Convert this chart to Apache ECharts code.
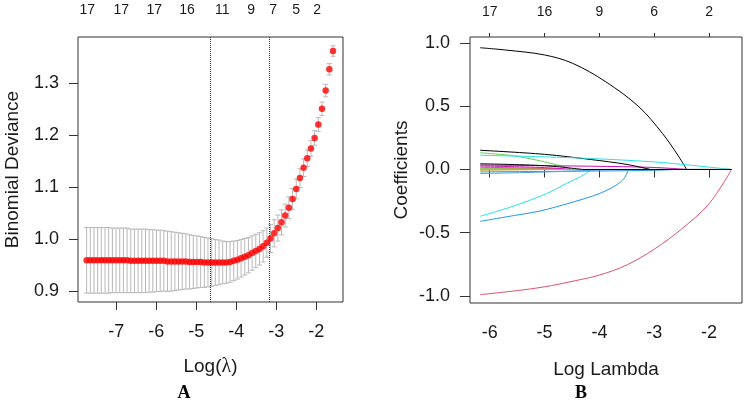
<!DOCTYPE html>
<html>
<head>
<meta charset="utf-8">
<script src="https://cdn.jsdelivr.net/npm/echarts@6/dist/echarts.min.js"></script>
<style>
  html, body { margin: 0; padding: 0; background: #fff; }
  #chart { width: 744px; height: 401px; }
</style>
</head>
<body>
<div id="chart"></div>
<script>
// Panel A: cross-validated binomial deviance
const logLambdaA = [
  -7.744, -7.652, -7.560, -7.468, -7.376, -7.284, -7.192, -7.100, -7.008, -6.916,
  -6.824, -6.732, -6.640, -6.548, -6.456, -6.364, -6.272, -6.180, -6.088, -5.996,
  -5.904, -5.812, -5.720, -5.628, -5.536, -5.444, -5.352, -5.260, -5.168, -5.076,
  -4.984, -4.892, -4.800, -4.708, -4.616, -4.524, -4.432, -4.340, -4.248, -4.156,
  -4.064, -3.972, -3.880, -3.788, -3.696, -3.604, -3.512, -3.420, -3.328, -3.236,
  -3.144, -3.052, -2.960, -2.868, -2.776, -2.684, -2.592, -2.500, -2.408, -2.316,
  -2.224, -2.132, -2.040, -1.948, -1.856, -1.764, -1.672, -1.580
];
const devMean = [
  0.959, 0.959, 0.959, 0.959, 0.959, 0.959, 0.959, 0.959, 0.959, 0.959,
  0.959, 0.959, 0.958, 0.958, 0.958, 0.958, 0.958, 0.958, 0.958, 0.958,
  0.958, 0.958, 0.957, 0.957, 0.957, 0.957, 0.957, 0.957, 0.956, 0.956,
  0.956, 0.956, 0.955, 0.955, 0.955, 0.955, 0.955, 0.955, 0.955, 0.956,
  0.958, 0.960, 0.963, 0.966, 0.969, 0.973, 0.977, 0.981, 0.986, 0.993,
  1.001, 1.011, 1.021, 1.032, 1.045, 1.060, 1.077, 1.096, 1.117, 1.137,
  1.155, 1.174, 1.194, 1.220, 1.250, 1.285, 1.326, 1.361
];
const devSE = [
  0.063, 0.063, 0.063, 0.063, 0.063, 0.063, 0.063, 0.062, 0.062, 0.062,
  0.062, 0.062, 0.061, 0.061, 0.061, 0.061, 0.061, 0.060, 0.060, 0.059,
  0.059, 0.058, 0.058, 0.057, 0.056, 0.055, 0.054, 0.053, 0.052, 0.051,
  0.050, 0.049, 0.048, 0.047, 0.046, 0.044, 0.043, 0.041, 0.040, 0.039,
  0.038, 0.037, 0.036, 0.035, 0.034, 0.033, 0.032, 0.031, 0.030, 0.028,
  0.027, 0.026, 0.025, 0.024, 0.022, 0.021, 0.020, 0.019, 0.018, 0.017,
  0.016, 0.015, 0.014, 0.013, 0.013, 0.012, 0.011, 0.010
];
const cutLinesA = [-4.65, -3.17];
const nzeroPosA = [-7.73, -6.88, -6.05, -5.23, -4.35, -3.63, -3.08, -2.50, -1.98];
const nzeroLabA = ['17', '17', '17', '16', '11', '9', '7', '5', '2'];
const xTicksA = [-7, -6, -5, -4, -3, -2];
const yTicksA = [0.9, 1.0, 1.1, 1.2, 1.3];

// Panel B: coefficient paths [logLambda, coefficient], last point = where it reaches 0
const pathBlack1 = [[-6.175, 0.963], [-5.71, 0.945], [-5.0, 0.906], [-4.49, 0.84], [-3.885, 0.694], [-3.28, 0.496], [-2.85, 0.285], [-2.55, 0.10], [-2.41, 0]];
const pathRed1 = [[-6.175, -0.990], [-5.5, -0.958], [-5.0, -0.928], [-4.5, -0.885], [-4.0, -0.835], [-3.5, -0.755], [-3.0, -0.630], [-2.5, -0.470], [-2.0, -0.270], [-1.59, 0]];
const pathGreen1 = [[-6.175, 0.132], [-5.6, 0.11], [-5.14, 0.074], [-4.6, 0.016], [-4.5, 0]];
const pathBlueLow = [[-6.175, -0.41], [-5.5, -0.36], [-5.1, -0.33], [-4.5, -0.26], [-4.0, -0.19], [-3.7, -0.125], [-3.55, -0.07], [-3.47, 0]];
const pathCyanLow = [[-6.175, -0.37], [-5.57, -0.29], [-4.96, -0.19], [-4.6, -0.11], [-4.35, -0.058], [-4.14, 0]];
const pathMagenta1 = [[-6.175, 0.035], [-4.16, 0.026], [-3.0, 0.016], [-2.4, 0]];
const pathYellow1 = [[-6.175, 0.010], [-4.8, 0.004], [-4.6, 0]];
const pathGray1 = [[-6.175, 0.002], [-5.3, 0]];
const pathBlack2 = [[-6.175, 0.152], [-5.0, 0.12], [-4.16, 0.079], [-3.5, 0.04], [-3.07, 0]];
const pathRed2 = [[-6.175, 0.018], [-5.0, 0.008], [-4.6, 0]];
const pathGreen2 = [[-6.175, 0.004], [-5.0, 0.001], [-4.7, 0]];
const pathBlueA = [[-6.175, -0.019], [-4.0, -0.012], [-3.0, -0.006], [-2.6, 0]];
const pathCyanUp = [[-6.175, 0.113], [-5.0, 0.100], [-4.16, 0.087], [-3.0, 0.06], [-2.34, 0.034], [-1.59, 0]];
const pathMagenta2 = [[-6.175, 0.028], [-5.0, 0.015], [-4.5, 0]];
const pathYellow2 = [[-6.175, -0.006], [-4.9, 0]];
const pathBlueB = [[-6.175, -0.032], [-5.0, -0.02], [-3.8, 0]];
const pathBlack3 = [[-6.175, 0.045], [-5.0, 0.03], [-4.3, 0]];
const pathEndB = -1.59;
const xTicksB = [-6, -5, -4, -3, -2];
const nzeroLabB = ['17', '16', '9', '6', '2'];
const yTicksB = [-1.0, -0.5, 0.0, 0.5, 1.0];

const FONT = 'Liberation Sans, Arial, sans-serif';
const TXT = '#1a1a1a';

// R 4.x default palette, recycled over the 17 variables
const pathsB = [
  [pathBlack1, '#000000'], [pathRed1, '#DF536B'], [pathGreen1, '#61D04F'], [pathBlueLow, '#2297E6'],
  [pathCyanLow, '#28E2E5'], [pathMagenta1, '#CD0BBC'], [pathYellow1, '#C9A93A'], [pathGray1, '#9E9E9E'],
  [pathBlack2, '#000000'], [pathRed2, '#DF536B'], [pathGreen2, '#61D04F'], [pathBlueA, '#2297E6'],
  [pathCyanUp, '#28E2E5'], [pathMagenta2, '#CD0BBC'], [pathYellow2, '#C9A93A'], [pathBlueB, '#4aa3e8'],
  [pathBlack3, '#000000']
];

const chart = echarts.init(document.getElementById('chart'), null, { renderer: 'canvas' });

function lookupLabel(positions, labels) {
  return function (v) {
    const i = positions.findIndex(p => Math.abs(p - v) < 1e-6);
    return i >= 0 ? labels[i] : '';
  };
}

const errData = logLambdaA.map((x, i) => [x, devMean[i] - devSE[i], devMean[i] + devSE[i]]);
const meanData = logLambdaA.map((x, i) => [x, devMean[i]]);

const axisLabelBase = { fontFamily: FONT, fontSize: 18, color: TXT };

// each path: a smooth curve down to its zero point, then a flat tail at 0
const pathSeries = [];
pathsB.forEach(([data, color]) => {
  const last = data[data.length - 1];
  pathSeries.push({
    type: 'line', xAxisIndex: 2, yAxisIndex: 1, data: data,
    showSymbol: false, smooth: 0.35, silent: true,
    lineStyle: { color: color, width: 1 }
  });
  if (last[0] < pathEndB) {
    pathSeries.push({
      type: 'line', xAxisIndex: 2, yAxisIndex: 1, data: [last, [pathEndB, 0]],
      showSymbol: false, silent: true,
      lineStyle: { color: color, width: 1 }
    });
  }
});

const option = {
  animation: false,
  backgroundColor: '#fff',
  grid: [
    { left: 78, top: 37, width: 265, height: 265, show: true, borderColor: '#333', borderWidth: 1, backgroundColor: 'transparent', outerBoundsMode: 'none' },
    { left: 470, top: 37, width: 272, height: 266, show: true, borderColor: '#333', borderWidth: 1, backgroundColor: 'transparent', outerBoundsMode: 'none' }
  ],
  xAxis: [
    {
      gridIndex: 0, type: 'value', min: -7.96, max: -1.33, position: 'bottom',
      axisLine: { show: false }, splitLine: { show: false },
      axisTick: { show: true, customValues: xTicksA, length: 8, lineStyle: { color: '#333' } },
      axisLabel: Object.assign({ customValues: xTicksA, margin: 21 }, axisLabelBase),
      name: 'Log({l|λ})', nameLocation: 'middle', nameGap: 55,
      nameTextStyle: { fontFamily: FONT, fontSize: 19, color: TXT, rich: { l: { fontFamily: 'Liberation Serif, serif', fontSize: 20, color: TXT } } }
    },
    {
      gridIndex: 0, type: 'value', min: -7.96, max: -1.33, position: 'top',
      axisLine: { show: false }, splitLine: { show: false }, axisTick: { show: false },
      axisLabel: { customValues: nzeroPosA, formatter: lookupLabel(nzeroPosA, nzeroLabA), margin: 20, fontFamily: FONT, fontSize: 14, color: TXT }
    },
    {
      gridIndex: 1, type: 'value', min: -6.36, max: -1.40, position: 'bottom',
      axisLine: { show: false }, splitLine: { show: false },
      axisTick: { show: true, customValues: xTicksB, length: 8, lineStyle: { color: '#333' } },
      axisLabel: Object.assign({ customValues: xTicksB, margin: 21 }, axisLabelBase),
      name: 'Log Lambda', nameLocation: 'middle', nameGap: 57,
      nameTextStyle: { fontFamily: FONT, fontSize: 19, color: TXT }
    },
    {
      gridIndex: 1, type: 'value', min: -6.36, max: -1.40, position: 'top',
      axisLine: { show: false }, splitLine: { show: false },
      axisTick: { show: true, customValues: xTicksB, length: 4, lineStyle: { color: '#333' } },
      axisLabel: { customValues: xTicksB, formatter: lookupLabel(xTicksB, nzeroLabB), margin: 18, fontFamily: FONT, fontSize: 14, color: TXT }
    }
  ],
  yAxis: [
    {
      gridIndex: 0, type: 'value', min: 0.879, max: 1.388,
      axisLine: { show: false }, splitLine: { show: false },
      axisTick: { show: true, customValues: yTicksA, length: 9, lineStyle: { color: '#333' } },
      axisLabel: Object.assign({ customValues: yTicksA, margin: 19, formatter: v => v.toFixed(1) }, axisLabelBase),
      name: 'Binomial Deviance', nameLocation: 'middle', nameGap: 56,
      nameTextStyle: { fontFamily: FONT, fontSize: 19, color: TXT }
    },
    {
      gridIndex: 1, type: 'value', min: -1.056, max: 1.048,
      axisLine: { show: false }, splitLine: { show: false },
      axisTick: { show: true, customValues: yTicksB, length: 10, lineStyle: { color: '#333' } },
      axisLabel: Object.assign({ customValues: yTicksB, margin: 20, formatter: v => v.toFixed(1) }, axisLabelBase),
      name: 'Coefficients', nameLocation: 'middle', nameGap: 59,
      nameTextStyle: { fontFamily: FONT, fontSize: 19, color: TXT }
    }
  ],
  graphic: [
    { type: 'text', x: 184, y: 393, style: { text: 'A', font: 'bold 18px "Liberation Serif", serif', fill: '#000', textAlign: 'center', textVerticalAlign: 'middle' } },
    { type: 'text', x: 581, y: 393, style: { text: 'B', font: 'bold 18px "Liberation Serif", serif', fill: '#000', textAlign: 'center', textVerticalAlign: 'middle' } }
  ],
  series: [
    {
      type: 'custom', xAxisIndex: 0, yAxisIndex: 0, data: errData,
      encode: { x: 0, y: [1, 2] }, silent: true, z: 2,
      renderItem: function (params, api) {
        const x = api.value(0);
        const lo = api.coord([x, api.value(1)]);
        const hi = api.coord([x, api.value(2)]);
        const cap = 2.5;
        const st = { stroke: '#b8b8b8', lineWidth: 1 };
        return {
          type: 'group',
          children: [
            { type: 'line', shape: { x1: lo[0], y1: lo[1], x2: hi[0], y2: hi[1] }, style: st },
            { type: 'line', shape: { x1: lo[0] - cap, y1: lo[1], x2: lo[0] + cap, y2: lo[1] }, style: st },
            { type: 'line', shape: { x1: hi[0] - cap, y1: hi[1], x2: hi[0] + cap, y2: hi[1] }, style: st }
          ]
        };
      }
    },
    {
      type: 'scatter', xAxisIndex: 0, yAxisIndex: 0, data: meanData,
      symbol: 'circle', symbolSize: 6.5, itemStyle: { color: '#ff0000' }, z: 3, silent: true,
      markLine: {
        silent: true, symbol: ['none', 'none'], label: { show: false },
        lineStyle: { type: 'dotted', color: '#333', width: 1 },
        data: cutLinesA.map(v => ({ xAxis: v }))
      }
    }
  ].concat(pathSeries)
};

chart.setOption(option);
</script>
</body>
</html>
